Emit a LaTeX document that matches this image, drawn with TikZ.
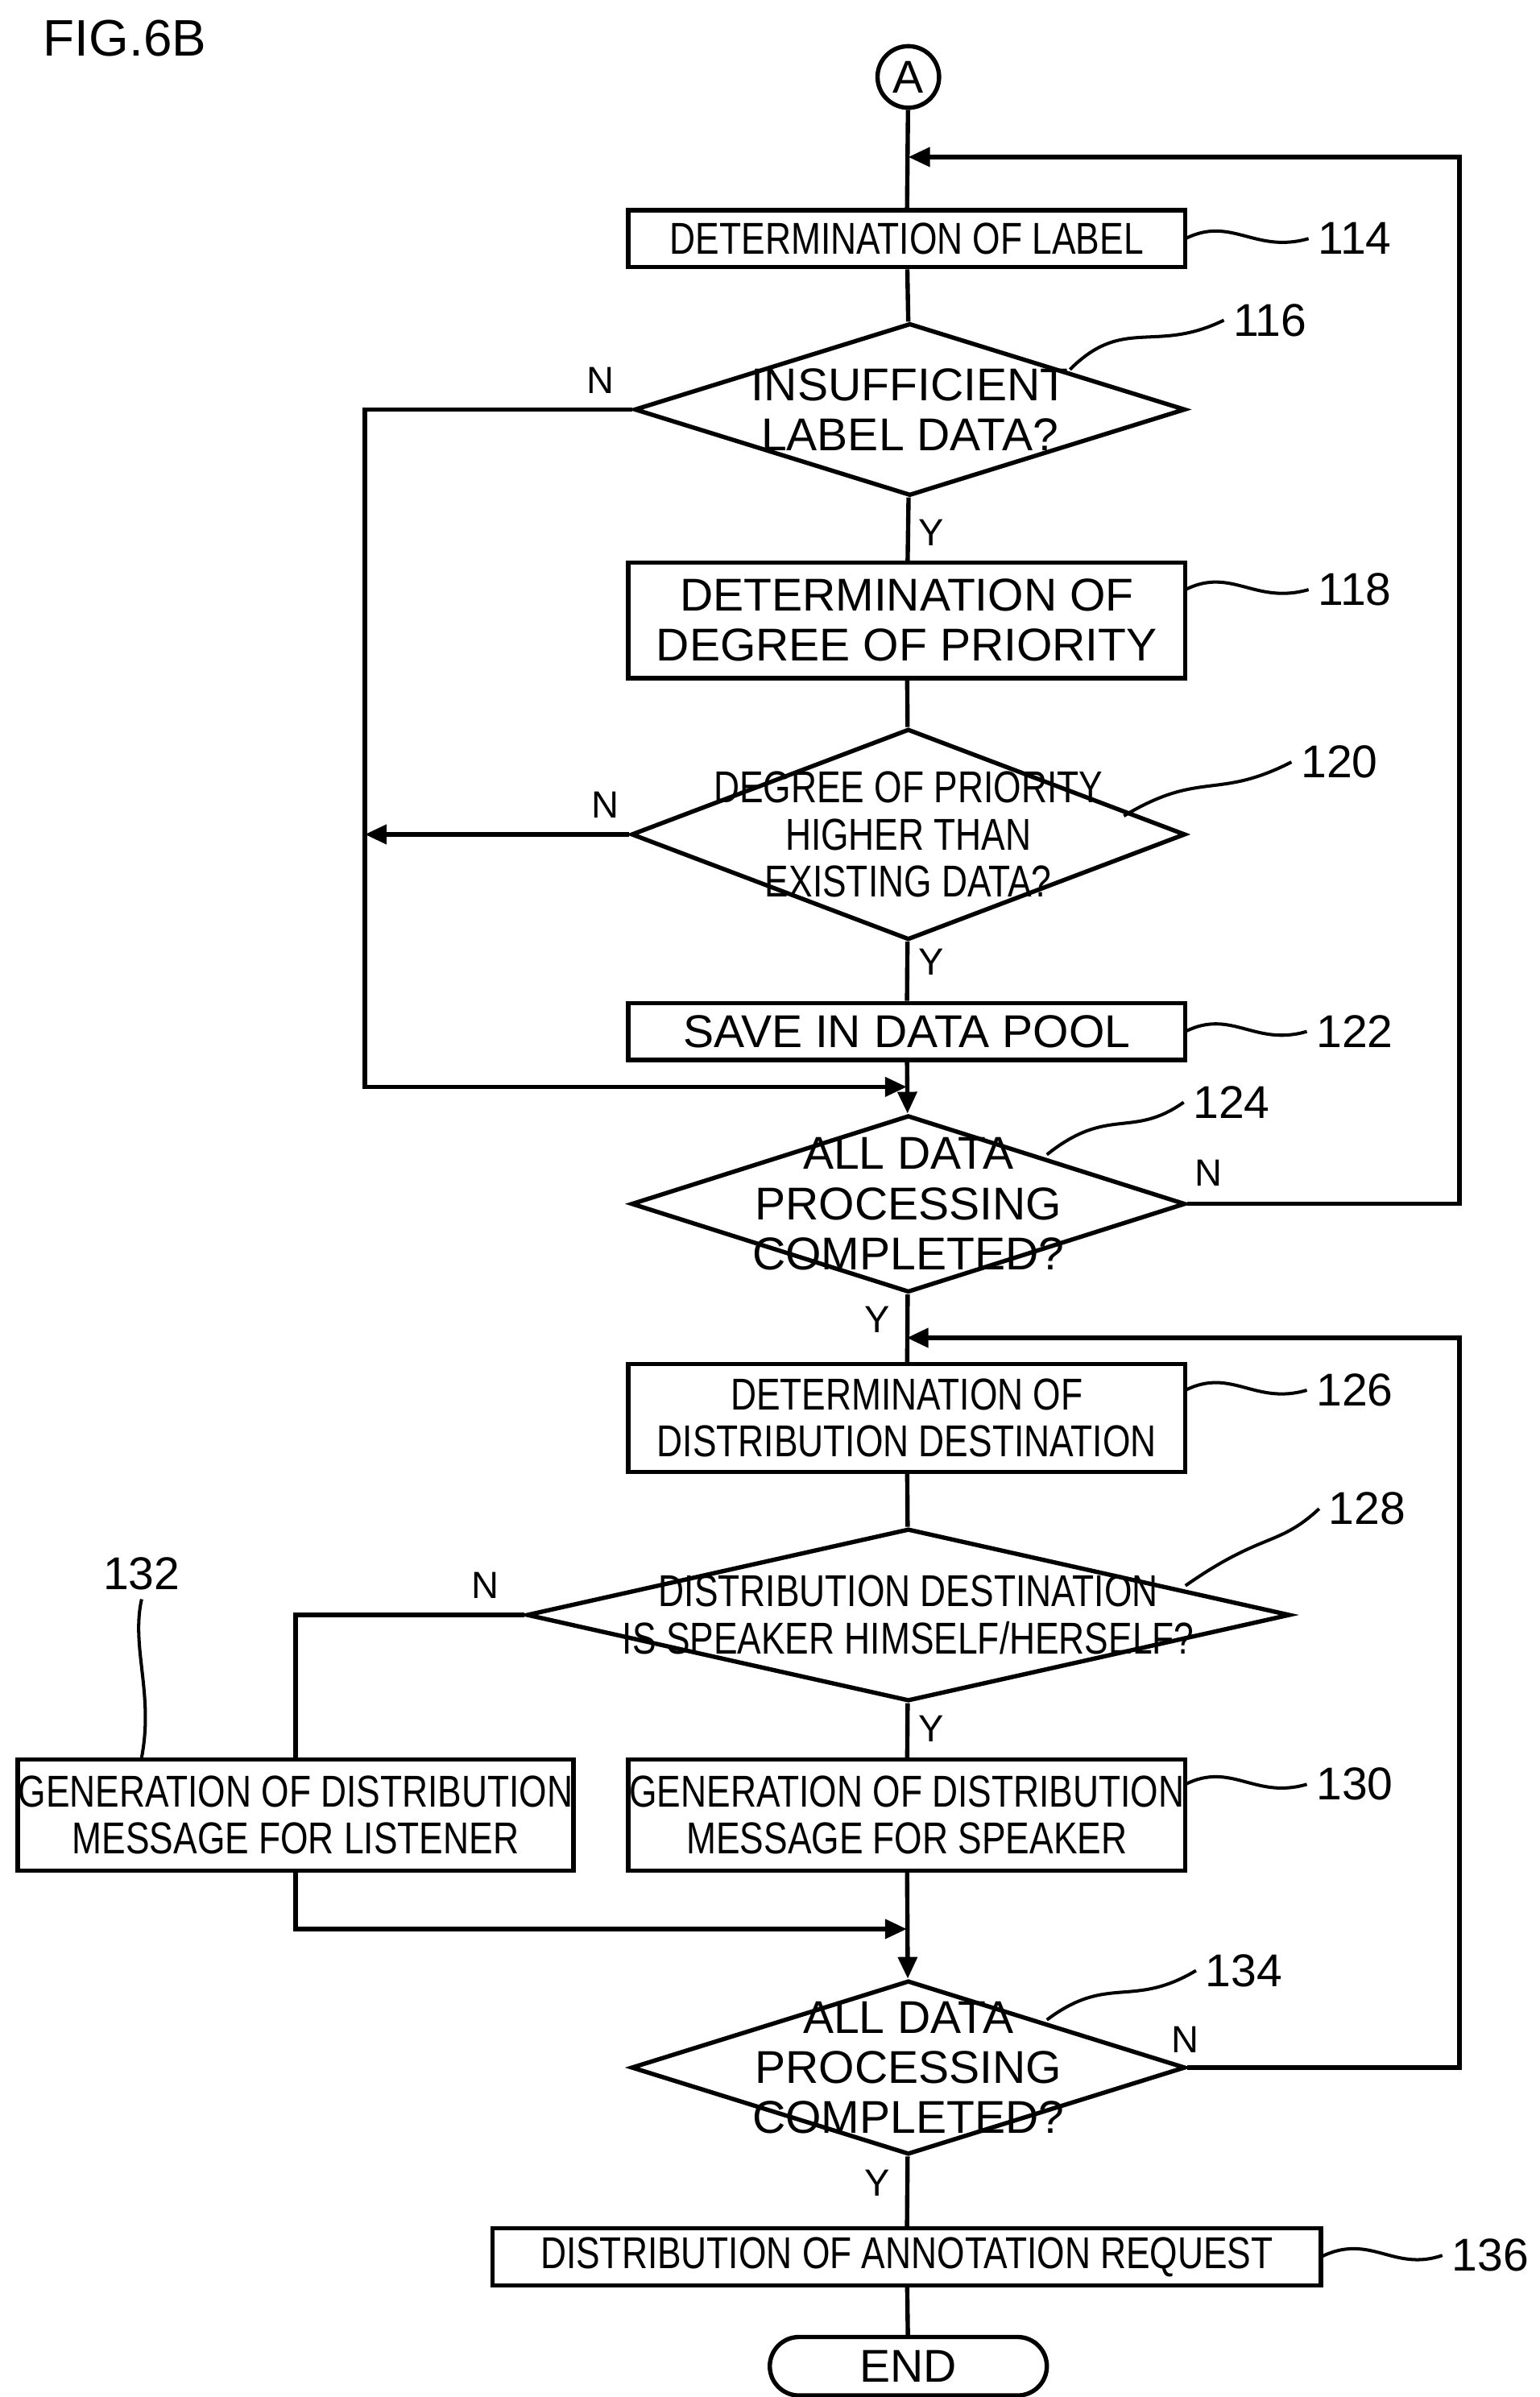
\documentclass[tikz,border=0pt]{standalone}
\usepackage{fontspec}
\setmainfont{Liberation Sans}
\newfontfamily\cond[FakeStretch=0.8]{Liberation Sans}
\usetikzlibrary{arrows.meta,shapes.geometric}
\tikzset{
  box/.style={rectangle, draw, line width=1.6pt, inner sep=0pt, align=center},
  dia/.style={diamond, draw, line width=1.6pt, inner sep=0pt},
  big/.style={font=\fontsize{17}{18.5}\selectfont, align=center},
  sml/.style={font=\cond\fontsize{16.5}{17.5}\selectfont, align=center},
  num/.style={font=\fontsize{17}{18}\selectfont},
  yn/.style={font=\fontsize{14}{16}\selectfont},
  flow/.style={line width=1.6pt, -{Triangle[length=8pt,width=7pt]}},
  line/.style={line width=1.6pt},
  sq/.style={line width=1.2pt}
}
\begin{document}
\begin{tikzpicture}[x=0.02cm,y=-0.02cm]
\useasboundingbox (0,0) rectangle (1000,1557);
\node[font=\fontsize{19}{20}\selectfont, anchor=west] (fig) at (22,25) {FIG.6B};
\node[circle, draw, line width=1.6pt, minimum size=0.8cm, inner sep=0pt, big] (A) at (590,50) {A};
% boxes
\node[box, sml, minimum width=7.24cm, minimum height=0.74cm] (b114) at (589,155) {DETERMINATION OF LABEL};
\node[dia, minimum width=7.16cm, minimum height=2.24cm] (d116) at (591,266) {};
\node[big] at (d116) {INSUFFICIENT\\LABEL DATA?};
\node[box, big, minimum width=7.24cm, minimum height=1.5cm] (b118) at (589,403) {DETERMINATION OF\\DEGREE OF PRIORITY};
\node[dia, minimum width=7.2cm, minimum height=2.74cm] (d120) at (590,542) {};
\node[sml] at (d120) {DEGREE OF PRIORITY\\HIGHER THAN\\EXISTING DATA?};
\node[box, big, minimum width=7.24cm, minimum height=0.74cm] (b122) at (589,670) {SAVE IN DATA POOL};
\node[dia, minimum width=7.2cm, minimum height=2.3cm] (d124) at (590,782) {};
\node[big] at (d124) {ALL DATA\\PROCESSING\\COMPLETED?};
\node[box, sml, minimum width=7.24cm, minimum height=1.4cm] (b126) at (589,921) {DETERMINATION OF\\DISTRIBUTION DESTINATION};
\node[dia, minimum width=9.92cm, minimum height=2.24cm] (d128) at (590,1049) {};
\node[sml] at (d128) {DISTRIBUTION DESTINATION\\IS SPEAKER HIMSELF/HERSELF?};
\node[box, sml, minimum width=7.24cm, minimum height=1.44cm] (b130) at (589,1179) {GENERATION OF DISTRIBUTION\\MESSAGE FOR SPEAKER};
\node[box, sml, minimum width=7.22cm, minimum height=1.44cm] (b132) at (192,1179) {GENERATION OF DISTRIBUTION\\MESSAGE FOR LISTENER};
\node[dia, minimum width=7.2cm, minimum height=2.26cm] (d134) at (590,1343) {};
\node[big] at (d134) {ALL DATA\\PROCESSING\\COMPLETED?};
\node[box, sml, minimum width=10.76cm, minimum height=0.74cm] (b136) at (589,1466) {DISTRIBUTION OF ANNOTATION REQUEST};
\node[rectangle, rounded corners=0.38cm, draw, line width=1.6pt, minimum width=3.6cm, minimum height=0.76cm, big] (end) at (590,1537) {END};
% main flow
\draw[line] (A) -- (b114);
\draw[line] (b114) -- (d116);
\draw[line] (d116) -- (b118);
\draw[line] (b118) -- (d120);
\draw[line] (d120) -- (b122);
\draw[flow] (b122) -- (d124);
\draw[line] (d124) -- (b126);
\draw[line] (b126) -- (d128);
\draw[line] (d128) -- (b130);
\draw[flow] (b130) -- (d134);
\draw[line] (d134) -- (b136);
\draw[line] (b136) -- (end);
% branches
\coordinate (c1) at (237,266);
\coordinate (c2) at (237,706);
\coordinate (c3) at (237,542);
\draw[flow] (d116.west) -- (c1) -- (c2) -- (c2-|b122);
\draw[flow] (d120.west) -- (c3);
\coordinate (c4) at (948,782);
\coordinate (c5) at (948,102);
\draw[flow] (d124.east) -- (c4) -- (c5) -- (c5-|A);
\coordinate (c6) at (948,1343);
\coordinate (c7) at (948,869);
\draw[flow] (d134.east) -- (c6) -- (c7) -- (c7-|b126);
\coordinate (c8) at (192,1049);
\draw[line] (d128.west) -- (c8) -- (b132.north);
\coordinate (c9) at (192,1253);
\draw[flow] (b132.south) -- (c9) -- (c9-|b130);
% Y / N
\node[yn] at (390,247) {N};
\node[yn] at (605,346) {Y};
\node[yn] at (393,523) {N};
\node[yn] at (605,625) {Y};
\node[yn] at (785,762) {N};
\node[yn] at (570,857) {Y};
\node[yn] at (315,1030) {N};
\node[yn] at (605,1123) {Y};
\node[yn] at (770,1325) {N};
\node[yn] at (570,1418) {Y};
% reference numbers
\node[num] (n114) at (880,155) {114};
\node[num] (n116) at (825,208) {116};
\node[num] (n118) at (880,383) {118};
\node[num] (n120) at (870,495) {120};
\node[num] (n122) at (880,670) {122};
\node[num] (n124) at (800,716) {124};
\node[num] (n126) at (880,903) {126};
\node[num] (n128) at (888,980) {128};
\node[num] (n130) at (880,1159) {130};
\node[num] (n132) at (92,1022) {132};
\node[num] (n134) at (808,1280) {134};
\node[num] (n136) at (968,1465) {136};
\draw[sq] (770,155) .. controls (800,140) and (815,165) .. (n114.west);
\draw[sq] (695,240) .. controls (730,205) and (750,230) .. (n116.west);
\draw[sq] (770,383) .. controls (800,368) and (815,393) .. (n118.west);
\draw[sq] (730,530) .. controls (780,500) and (790,520) .. (n120.west);
\draw[sq] (770,670) .. controls (800,655) and (815,680) .. (n122.west);
\draw[sq] (680,750) .. controls (720,718) and (735,740) .. (n124.west);
\draw[sq] (770,903) .. controls (800,888) and (815,913) .. (n126.west);
\draw[sq] (770,1030) .. controls (820,995) and (830,1005) .. (n128.west);
\draw[sq] (770,1159) .. controls (800,1144) and (815,1169) .. (n130.west);
\draw[sq] (n132.south) .. controls (85,1070) and (100,1100) .. (b132.north-|92,0);
\draw[sq] (680,1312) .. controls (720,1282) and (735,1305) .. (n134.west);
\draw[sq] (858,1466) .. controls (890,1450) and (905,1476) .. (n136.west);
\end{tikzpicture}
\end{document}
